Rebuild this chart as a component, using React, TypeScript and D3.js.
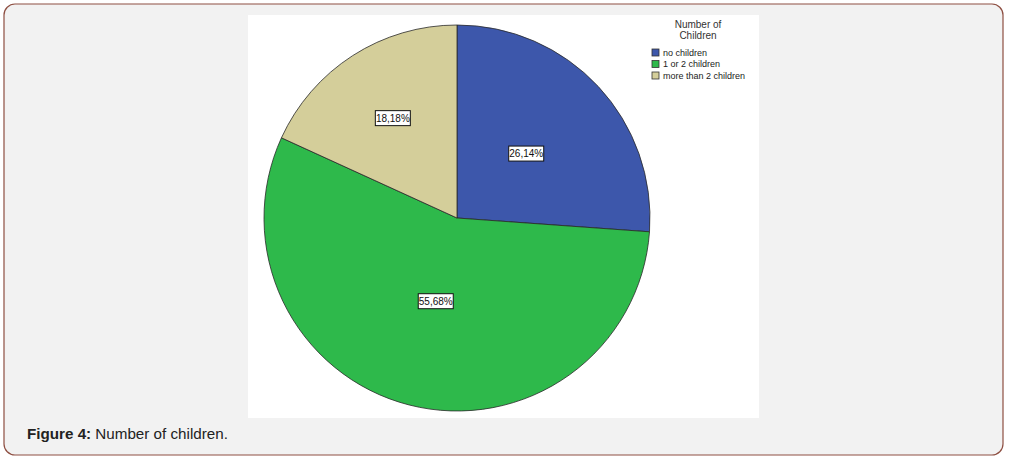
import React from 'react'
import * as d3 from 'd3'

const categories = ['no children', '1 or 2 children', 'more than 2 children']
const percents = [26.14, 55.68, 18.18]
const colors = ['#3d57ab', '#2eb94b', '#d4ce9a']
const legendTitle = ['Number of', 'Children']
const caption = { bold: 'Figure 4:', text: ' Number of children.' }

// label distance from centre, as a share of the radius (SPSS places them unevenly)
const labelRadius = [0.49, 0.445, 0.615]

const W = 1010
const H = 461
const FONT = '"Liberation Sans", Arial, sans-serif'

export default function App() {
  const cx = 457
  const cy = 218
  const radius = 193

  const pie = d3.pie<number>().sort(null).value(d => d)
  const arcs = pie(percents)
  const arc = d3.arc<d3.PieArcDatum<number>>().innerRadius(0).outerRadius(radius)

  const fmt = (v: number) => v.toFixed(2).replace('.', ',') + '%'

  return (
    <svg width={W} height={H} style={{ position: 'absolute', left: 0, top: 0, fontFamily: FONT }}>
      <rect x={0} y={0} width={W} height={H} fill="#fff" />
      {/* figure frame */}
      <rect x={4} y={4} width={999} height={451} rx={11} ry={11} fill="#f2f2f2" stroke="#8e4f42" strokeWidth={1.2} />
      {/* chart panel */}
      <rect x={248} y={15} width={511} height={403} fill="#fff" />

      <g transform={`translate(${cx},${cy})`}>
        {arcs.map((a, i) => (
          <path key={i} d={arc(a) || ''} fill={colors[i]} stroke="#2a2a2a" strokeWidth={0.8} />
        ))}
        {arcs.map((a, i) => {
          const r = radius * labelRadius[i]
          const [lx, ly] = d3.arc<d3.PieArcDatum<number>>().innerRadius(r).outerRadius(r).centroid(a)
          const label = fmt(percents[i])
          const w = 35
          const h = 15
          return (
            <g key={'l' + i} transform={`translate(${lx},${ly})`}>
              <rect x={-w / 2} y={-h / 2} width={w} height={h} fill="#fff" stroke="#111" strokeWidth={1} />
              <text x={0} y={3.5} textAnchor="middle" fontSize={10} fill="#111">{label}</text>
            </g>
          )
        })}
      </g>

      {/* legend */}
      <g>
        {legendTitle.map((t, i) => (
          <text key={t} x={698} y={28 + i * 11} textAnchor="middle" fontSize={10} fill="#333">{t}</text>
        ))}
        {categories.map((c, i) => (
          <g key={c} transform={`translate(652,${49 + i * 11.5})`}>
            <rect x={0} y={0} width={7} height={7} fill={colors[i]} stroke="#333" strokeWidth={0.8} />
            <text x={11} y={6.5} fontSize={9} fill="#222">{c}</text>
          </g>
        ))}
      </g>

      <text x={27} y={439} fontSize={15.2} fill="#222">
        <tspan fontWeight="bold">{caption.bold}</tspan>
        <tspan>{caption.text}</tspan>
      </text>
    </svg>
  )
}
